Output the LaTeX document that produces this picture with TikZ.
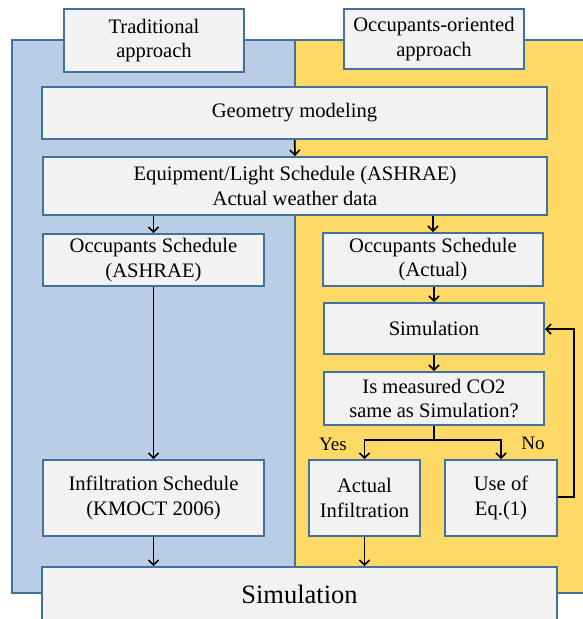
\documentclass[tikz,border=0pt]{standalone}
\usepackage{fontspec}
\setmainfont{Liberation Serif}
\usetikzlibrary{arrows.meta}
\definecolor{panelblue}{RGB}{185,205,229}
\definecolor{panelyellow}{RGB}{255,217,102}
\definecolor{edgeblue}{RGB}{65,113,156}
\definecolor{boxgray}{RGB}{242,242,242}
\newcommand\bodyfs{\fontsize{20.6}{24.5}\selectfont}
\newcommand\bigfs{\fontsize{26.5}{30}\selectfont}
\newcommand\labfs{\fontsize{19}{22}\selectfont}
\tikzset{
  panel/.style={draw=edgeblue, line width=2pt},
  flowbox/.style={draw=edgeblue, fill=boxgray, line width=2pt, align=center,
    inner sep=0pt, font=\bodyfs, text=black},
  flowarrow/.style={draw=black, line width=1.5pt, -{Straight Barb[length=5pt,width=10pt,line width=1.5pt]}},
  flowline/.style={draw=black, line width=1.5pt},
  branchlabel/.style={inner sep=0pt, font=\labfs, text=black}
}
\begin{document}
\begin{tikzpicture}[x=1pt,y=-1pt]
\useasboundingbox (0,0) rectangle (582,619);
% panels
\fill[panelyellow] (295,40) rectangle (592,593);
\draw[panel] (295,40) rectangle (592,593);
\fill[panelblue] (12,40) rectangle (295,593);
\draw[panel] (12,40) rectangle (295,593);
% header boxes
\node[flowbox, minimum width=180, minimum height=63] (trad) at (154,40.5) {Traditional\\approach};
\node[flowbox, minimum width=180, minimum height=60] (occ) at (434,39) {Occupants-oriented\\approach};
% common boxes
\node[flowbox, minimum width=505, minimum height=52] (geom) at (294.5,113) {Geometry modeling};
\node[flowbox, minimum width=504, minimum height=58] (equip) at (295,186) {Equipment/Light Schedule (ASHRAE)\\Actual weather data};
% left column
\node[flowbox, minimum width=221, minimum height=52] (occA) at (153.5,260) {Occupants Schedule\\(ASHRAE)};
\node[flowbox, minimum width=221, minimum height=76] (infA) at (153.5,498) {Infiltration Schedule\\(KMOCT 2006)};
% right column
\node[flowbox, minimum width=220, minimum height=53] (occB) at (433,259.5) {Occupants Schedule\\(Actual)};
\node[flowbox, minimum width=220, minimum height=51] (sim1) at (434,328.5) {Simulation};
\node[flowbox, minimum width=220, minimum height=53] (dec) at (434,398.5) {Is measured CO2\\same as Simulation?};
\node[flowbox, minimum width=111, minimum height=76] (actual) at (364.5,498) {Actual\\Infiltration};
\node[flowbox, minimum width=112, minimum height=76] (useq) at (501,498) {Use of\\Eq.(1)};
% bottom
\node[flowbox, minimum width=515, minimum height=54, font=\bigfs] (simB) at (299.5,594) {Simulation};
% labels
\node[branchlabel] (yes) at (333,444) {Yes};
\node[branchlabel] (no) at (533,443) {No};
\coordinate (split) at (434,440);
\coordinate (loopA) at (574,497);
\coordinate (loopB) at (574,329);
% connectors
\draw[flowarrow] (geom.south) -- (equip.north);
\draw[flowarrow] (equip.south -| occA.north) -- (occA.north);
\draw[flowarrow] (equip.south -| occB.north) -- (occB.north);
\draw[flowarrow] (occA.south) -- (infA.north);
\draw[flowarrow] (occB.south -| sim1.north) -- (sim1.north);
\draw[flowarrow] (sim1.south) -- (dec.north);
\draw[flowline] (dec.south) -- (split);
\draw[flowarrow] (split) -| (actual.north);
\draw[flowarrow] (split) -| (useq.north);
\draw[flowarrow] (useq.east |- loopA) -- (loopA) -- (loopB) -- (sim1.east |- loopB);
\draw[flowarrow] (infA.south) -- (infA.south |- simB.north);
\draw[flowarrow] (actual.south) -- (actual.south |- simB.north);
\end{tikzpicture}
\end{document}
